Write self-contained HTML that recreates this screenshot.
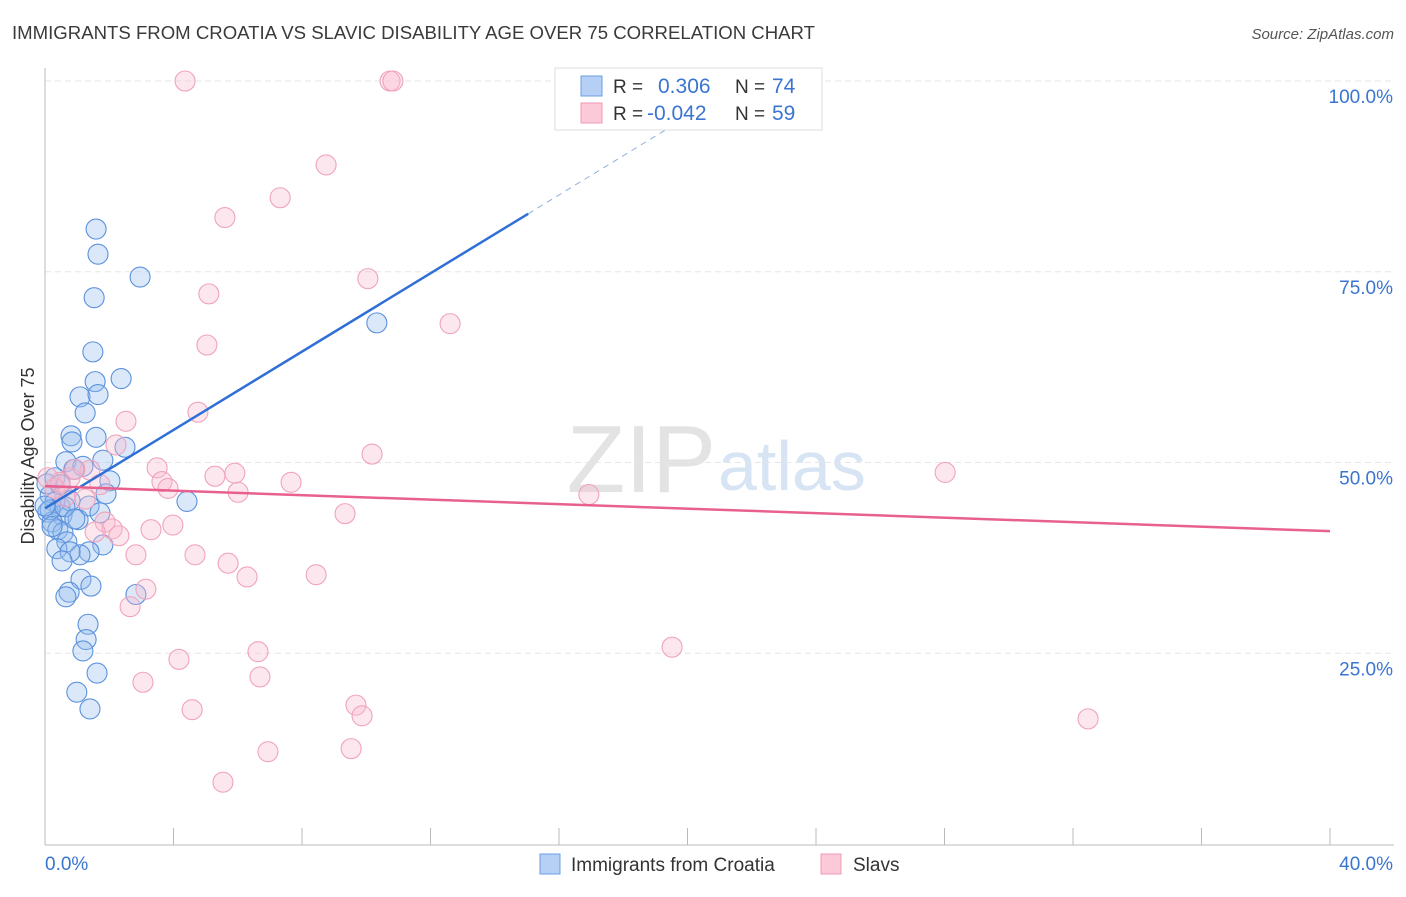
<!DOCTYPE html>
<html><head><meta charset="utf-8">
<style>
body{margin:0;background:#fff;font-family:"Liberation Sans",sans-serif;}
svg text{font-family:"Liberation Sans",sans-serif;}
</style></head>
<body>
<svg id="chart" width="1406" height="892">
<text x="12" y="39" font-size="18.6" fill="#3a3a3a" textLength="803">IMMIGRANTS FROM CROATIA VS SLAVIC DISABILITY AGE OVER 75 CORRELATION CHART</text>
<text x="1394" y="39" font-size="15" fill="#555" font-style="italic" text-anchor="end">Source: ZipAtlas.com</text>
<text x="34" y="456" font-size="18" fill="#333" text-anchor="middle" transform="rotate(-90 34 456)">Disability Age Over 75</text>
<text x="716" y="492" font-size="96" fill="#e3e3e3" font-family="Liberation Serif" text-anchor="end">ZIP</text>
<text x="718" y="490" font-size="70" fill="#d6e4f4">atlas</text>
<g id="grid"></g><g id="axes"></g><g id="pts"></g><g id="lines"></g>
<g>
<rect x="555" y="68" width="267" height="62" fill="#fff" stroke="#ddd"/>
<rect x="581" y="76" width="21" height="20" fill="#b5d0f4" stroke="#6d9ee0"/>
<rect x="581" y="103" width="21" height="20" fill="#fcc9d8" stroke="#f09ab5"/>
<text x="613" y="93" font-size="19" fill="#333">R =</text><text x="658" y="93" font-size="21" fill="#3a75d0">0.306</text>
<text x="735" y="93" font-size="19" fill="#333">N =</text><text x="772" y="93" font-size="21" fill="#3a75d0">74</text>
<text x="613" y="120" font-size="19" fill="#333">R =</text><text x="647" y="120" font-size="21" fill="#3a75d0">-0.042</text>
<text x="735" y="120" font-size="19" fill="#333">N =</text><text x="772" y="120" font-size="21" fill="#3a75d0">59</text>
</g>
<g>
<rect x="540" y="854" width="20" height="20" fill="#b5d0f4" stroke="#6d9ee0"/>
<text x="571" y="871" font-size="19" fill="#333">Immigrants from Croatia</text>
<rect x="821" y="854" width="20" height="20" fill="#fcc9d8" stroke="#f09ab5"/>
<text x="853" y="871" font-size="19" fill="#333">Slavs</text>
</g>
</svg>
<script>
const yTicks=[25,50,75,100];
const yTickLabels=["25.0%","50.0%","75.0%","100.0%"];
const xTickLabels=["0.0%","40.0%"];
const blueX=[1.59,1.65,2.96,1.53,10.33,1.49,1.56,2.37,1.09,1.65,1.25,0.81,1.59,0.84,2.49,0.65,1.80,1.18,0.90,2.02,1.90,4.42,1.37,0.47,0.16,0.31,0.09,0.53,1.03,0.22,0.40,0.56,0.68,1.80,0.37,1.37,1.09,0.78,0.53,1.12,1.43,0.75,0.65,2.83,1.34,1.28,1.18,1.62,0.99,1.40,0.06,0.16,0.31,0.0,0.78,0.47,0.22,0.62,0.93,1.71];
const blueY=[80.6,77.3,74.3,71.6,68.3,64.5,60.6,61.0,58.6,58.9,56.5,53.5,53.3,52.7,52.0,50.1,50.3,49.5,49.1,47.6,45.9,44.9,44.3,44.2,45.7,44.8,43.5,43.1,42.5,42.2,41.2,40.8,39.6,39.2,38.7,38.3,37.9,38.3,37.1,34.7,33.8,33.0,32.4,32.7,28.8,26.8,25.3,22.4,19.9,17.7,47.2,43.8,48.0,44.3,45.0,47.1,41.6,44.2,42.6,43.4];
const pinkX=[4.36,10.74,10.83,8.75,7.32,5.60,10.05,5.10,12.61,5.04,4.76,2.52,2.21,10.18,3.49,5.29,5.91,3.64,3.83,7.66,6.01,16.93,28.02,1.40,1.71,0.78,0.31,9.34,3.98,3.30,1.87,2.09,1.56,2.30,2.83,4.67,5.70,6.29,8.44,3.14,2.65,6.63,4.17,19.52,6.69,3.05,4.58,9.68,9.87,32.47,6.94,9.53,5.54,0.47,0.09,0.62,0.93,1.25];
const pinkY=[100,100,100,89.0,84.7,82.1,74.1,72.1,68.2,65.4,56.6,55.4,52.3,51.1,49.3,48.2,48.6,47.5,46.6,47.4,46.1,45.8,48.7,49.0,47.1,48.0,46.6,43.3,41.8,41.2,42.2,41.3,40.9,40.4,37.9,37.9,36.8,35.0,35.3,33.4,31.1,25.2,24.2,25.8,21.9,21.2,17.6,18.2,16.8,16.4,12.1,12.5,8.1,47.4,48.0,45.5,49.1,45.2];
const blueTrend=[[0,44.0],[15.04,82.6],[20.1,95.6]];
const pinkTrend=[[0,46.9],[40,41.0]];
const X=v=>45+v/40*1285, Y=v=>844-v/100*763;
const NS="http://www.w3.org/2000/svg";
function mk(t,a,p){const e=document.createElementNS(NS,t);for(const k in a)e.setAttribute(k,a[k]);p.appendChild(e);return e;}
const grid=document.getElementById('grid'),axes=document.getElementById('axes'),pts=document.getElementById('pts'),lines=document.getElementById('lines');
yTicks.forEach((t,i)=>{
 const g=mk('line',{x1:45,x2:1394,y1:Y(t),y2:Y(t),stroke:'#e6e6e6','stroke-dasharray':'6,4'},grid);
 
 
 const l=mk('text',{x:1393,y:Y(t)+22,'font-size':19,fill:'#3a75d0','text-anchor':'end'},axes);l.textContent=yTickLabels[i];
 
 
});
const ax=mk('line',{x1:45,x2:45,y1:68,y2:845,stroke:'#bbb'},axes);


const bx=mk('line',{x1:45,x2:1394,y1:845,y2:845,stroke:'#bbb'},axes);


for(let i=0;i<=10;i++){const t=mk('line',{x1:X(i*4),x2:X(i*4),y1:828,y2:845,stroke:'#bbb'},axes);
 
 }
[[0,'start',45],[40,'end',1393]].forEach((d,i)=>{const l=mk('text',{x:d[2],y:870,'font-size':19,fill:'#3a75d0','text-anchor':d[1]},axes);l.textContent=xTickLabels[i];
 
 });
blueX.forEach((v,i)=>{const c=mk('circle',{cx:X(v),cy:Y(blueY[i]),r:10,fill:'rgba(150,188,238,0.35)',stroke:'#5b91dc','stroke-width':1.1},pts);
 
 });
pinkX.forEach((v,i)=>{const c=mk('circle',{cx:X(v),cy:Y(pinkY[i]),r:10,fill:'rgba(248,185,205,0.35)',stroke:'#f0a3bb','stroke-width':1.1},pts);
 
 });
const b1=mk('line',{x1:X(blueTrend[0][0]),y1:Y(blueTrend[0][1]),x2:X(blueTrend[1][0]),y2:Y(blueTrend[1][1]),stroke:'#2f6fd6','stroke-width':2.5},lines);


const b2=mk('line',{x1:X(blueTrend[1][0]),y1:Y(blueTrend[1][1]),x2:X(blueTrend[2][0]),y2:Y(blueTrend[2][1]),stroke:'#8fb0e0','stroke-width':1,'stroke-dasharray':'6,5'},lines);


const p1=mk('line',{x1:X(pinkTrend[0][0]),y1:Y(pinkTrend[0][1]),x2:X(pinkTrend[1][0]),y2:Y(pinkTrend[1][1]),stroke:'#e8608f','stroke-width':2.5},lines);


</script>
</body></html>
